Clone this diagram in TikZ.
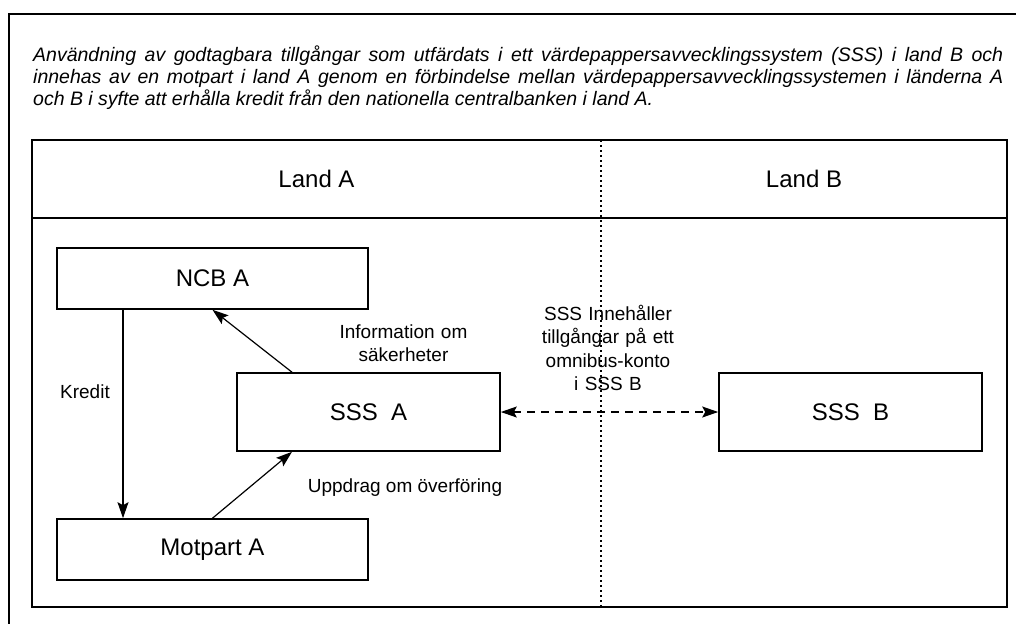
\documentclass[tikz,border=0pt]{standalone}
\usepackage{fontspec}
\setmainfont{Liberation Sans}
\usetikzlibrary{arrows.meta}
\begin{document}
\begin{tikzpicture}[x=1pt,y=-1pt,
  frame/.style={line width=1.8pt},
  box/.style={draw, line width=1.6pt, inner sep=0pt, font=\fontsize{24}{28}\selectfont},
  arr/.style={line width=1.2pt, -{Stealth[length=16pt,width=11pt,inset=3pt]}},
  darr/.style={line width=1.2pt, dash pattern=on 8pt off 6pt, {Stealth[length=16pt,width=11pt,inset=3pt]}-{Stealth[length=16pt,width=11pt,inset=3pt]}},
  lbl/.style={inner sep=0pt, font=\fontsize{19}{23.5}\selectfont},
  hdr/.style={inner sep=0pt, font=\fontsize{24}{28}\selectfont}]
\useasboundingbox (0,0) rectangle (1016,624);
% outer frame (cut off at right and bottom)
\draw[frame] (1016,14) -- (9,14) -- (9,624);
% title
\node[inner sep=0pt, anchor=base west, text width=970pt, align=justify,
      font=\fontsize{19.5}{22}\selectfont\itshape] (title) at (33,61)
  {Användning av godtagbara tillgångar som utfärdats i ett värdepappersavvecklingssystem (SSS) i land B och\linebreak
   innehas av en motpart i land A genom en förbindelse mellan värdepappersavvecklingssystemen i länderna A\linebreak
   och B i syfte att erhålla kredit från den nationella centralbanken i land A.};
% inner frame
\draw[frame] (32,140) rectangle (1007,607);
\draw[frame] (32,218) -- (1007,218);
\draw[line width=1.5pt, dash pattern=on 1.5pt off 3.5pt] (601,140) -- (601,607);
\node[hdr] (landa) at (316.5,179) {Land A};
\node[hdr] (landb) at (804,179) {Land B};
% boxes
\node[box, minimum width=311pt, minimum height=61pt] (ncb) at (212.5,278.5) {NCB A};
\node[box, minimum width=311pt, minimum height=61pt] (mot) at (212.5,549.5) {Motpart A};
\node[box, minimum width=263pt, minimum height=78pt] (ssa) at (368.5,412) {SSS\ \ A};
\node[box, minimum width=263pt, minimum height=78pt] (ssb) at (850.5,412) {SSS\ \ B};
% connectors
\draw[arr] ([xshift=-89.5pt]ncb.south) -- ([xshift=-89.5pt]mot.north);
\draw[arr] ([xshift=-76.5pt]ssa.north) -- (ncb.south);
\draw[arr] (mot.north) -- ([xshift=-76.5pt]ssa.south);
\draw[darr] (ssa.east) -- (ssb.west);
% labels
\node[lbl, anchor=base] (kredit) at (85,398.5) {Kredit};
\node[lbl, anchor=base, text width=170pt, align=center] (info) at (403.5,338) {Information om\\säkerheter};
\node[lbl, anchor=base] (upp) at (405,492) {Uppdrag om överföring};
\node[lbl, anchor=base, text width=170pt, align=center] (sssinfo) at (608,320)
  {SSS Innehåller\\tillgångar på ett\\omnibus-konto\\i SSS B};
\end{tikzpicture}
\end{document}
